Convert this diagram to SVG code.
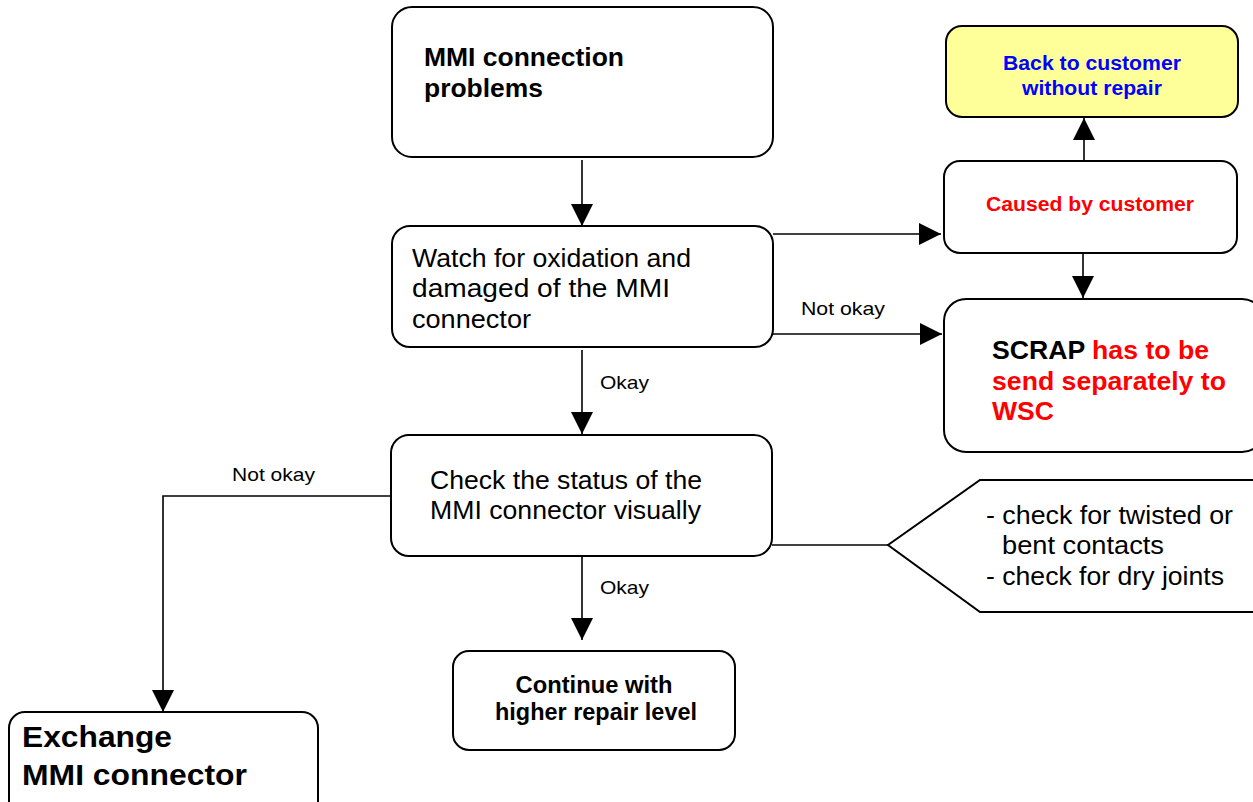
<svg xmlns="http://www.w3.org/2000/svg" width="1253" height="802" viewBox="0 0 1253 802">
  <style>
    .box { fill: #ffffff; stroke: #000000; stroke-width: 2; }
    .yellow { fill: #ffff99; }
    .line { fill: none; stroke: #000000; stroke-width: 1.6; }
    text { font-family: "Liberation Sans", Arial, sans-serif; fill: #000000; }
    .b { font-weight: bold; }
    .big { font-size: 25px; }
    .lbl { font-size: 19px; }
    .mid { font-size: 20px; }
    .cont { font-size: 23px; }
    .xl { font-size: 29px; }
    .red { fill: #ff0000; }
    .blue { fill: #0000ff; }
  </style>
  <defs>
    <marker id="arrow" viewBox="0 0 22 22" refX="22" refY="11" markerWidth="22" markerHeight="22" markerUnits="userSpaceOnUse" orient="auto">
      <path d="M0,0 L22,11 L0,22 Z" fill="#000000"/>
    </marker>
  </defs>

  <!-- connectors -->
  <g id="connectors">
    <path class="line" d="M582,160 L582,226" marker-end="url(#arrow)"/>
    <path class="line" d="M773,234 L941,234" marker-end="url(#arrow)"/>
    <path class="line" d="M773,334 L942,334" marker-end="url(#arrow)"/>
    <path class="line" d="M1084,160 L1084,118" marker-end="url(#arrow)"/>
    <path class="line" d="M1083,253 L1083,298" marker-end="url(#arrow)"/>
    <path class="line" d="M582,350 L582,434" marker-end="url(#arrow)"/>
    <path class="line" d="M391,496 L163,496 L163,712" marker-end="url(#arrow)"/>
    <path class="line" d="M582,557 L582,640" marker-end="url(#arrow)"/>
    <path class="line" d="M772,545 L888,545"/>
    <text class="lbl" x="801" y="315" textLength="84" lengthAdjust="spacingAndGlyphs">Not okay</text>
    <text class="lbl" x="600" y="389" textLength="49" lengthAdjust="spacingAndGlyphs">Okay</text>
    <text class="lbl" x="232" y="481" textLength="83" lengthAdjust="spacingAndGlyphs">Not okay</text>
    <text class="lbl" x="600" y="594" textLength="49" lengthAdjust="spacingAndGlyphs">Okay</text>
  </g>

  <g id="node-start">
    <rect class="box" x="392" y="7" width="381" height="150" rx="20"/>
    <text class="b big" x="424" y="66" textLength="200" lengthAdjust="spacingAndGlyphs">MMI connection</text>
    <text class="b big" x="424" y="97" textLength="119" lengthAdjust="spacingAndGlyphs">problems</text>
  </g>

  <g id="node-watch">
    <rect class="box" x="392" y="226" width="381" height="121" rx="18"/>
    <text class="big" x="412" y="267" textLength="279" lengthAdjust="spacingAndGlyphs">Watch for oxidation and</text>
    <text class="big" x="412" y="297" textLength="258" lengthAdjust="spacingAndGlyphs">damaged of the MMI</text>
    <text class="big" x="412" y="328" textLength="119" lengthAdjust="spacingAndGlyphs">connector</text>
  </g>

  <g id="node-back">
    <rect class="box yellow" x="946" y="26" width="292" height="91" rx="16"/>
    <text class="b mid blue" x="1092" y="70" text-anchor="middle" textLength="178" lengthAdjust="spacingAndGlyphs">Back to customer</text>
    <text class="b mid blue" x="1092" y="95" text-anchor="middle" textLength="140" lengthAdjust="spacingAndGlyphs">without repair</text>
  </g>

  <g id="node-caused">
    <rect class="box" x="944" y="161" width="293" height="92" rx="16"/>
    <text class="b mid red" x="1090" y="211" text-anchor="middle" textLength="208" lengthAdjust="spacingAndGlyphs">Caused by customer</text>
  </g>

  <g id="node-scrap">
    <rect class="box" x="944" y="299" width="320" height="153" rx="22"/>
    <text class="b big" x="992" y="359" textLength="217" lengthAdjust="spacingAndGlyphs">SCRAP <tspan class="red">has to be</tspan></text>
    <text class="b big red" x="992" y="390" textLength="234" lengthAdjust="spacingAndGlyphs">send separately to</text>
    <text class="b big red" x="992" y="420" textLength="62" lengthAdjust="spacingAndGlyphs">WSC</text>
  </g>

  <g id="node-check">
    <rect class="box" x="391" y="435" width="381" height="121" rx="18"/>
    <text class="big" x="430" y="489" textLength="272" lengthAdjust="spacingAndGlyphs">Check the status of the</text>
    <text class="big" x="430" y="519" textLength="271" lengthAdjust="spacingAndGlyphs">MMI connector visually</text>
  </g>

  <g id="note-checks">
    <path class="box" d="M888,545 L980,480 L1264,480 L1264,612 L980,612 Z"/>
    <text class="big" x="986" y="524" textLength="247" lengthAdjust="spacingAndGlyphs">- check for twisted or</text>
    <text class="big" x="1002" y="554" textLength="162" lengthAdjust="spacingAndGlyphs">bent contacts</text>
    <text class="big" x="986" y="585" textLength="238" lengthAdjust="spacingAndGlyphs">- check for dry joints</text>
  </g>

  <g id="node-continue">
    <rect class="box" x="453" y="651" width="282" height="99" rx="16"/>
    <text class="b cont" x="594" y="693" text-anchor="middle" textLength="157" lengthAdjust="spacingAndGlyphs">Continue with</text>
    <text class="b cont" x="596" y="720" text-anchor="middle" textLength="202" lengthAdjust="spacingAndGlyphs">higher repair level</text>
  </g>

  <g id="node-exchange">
    <rect class="box" x="9" y="712" width="309" height="110" rx="16"/>
    <text class="b xl" x="22" y="747" textLength="150" lengthAdjust="spacingAndGlyphs">Exchange</text>
    <text class="b xl" x="22" y="785" textLength="225" lengthAdjust="spacingAndGlyphs">MMI connector</text>
  </g>
</svg>
